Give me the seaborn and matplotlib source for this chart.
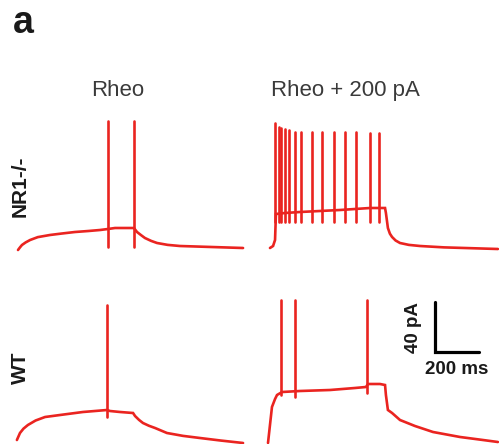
import numpy as np
import pandas as pd
import matplotlib
matplotlib.use("Agg")
import matplotlib.pyplot as plt
import seaborn as sns

sns.set_theme(style="white")
plt.rcParams["font.family"] = ["Liberation Sans", "DejaVu Sans"]

# ---------------- data (time in ms, membrane potential in mV) ----------------
# NR1-/- , Rheo
nr1_rheo_t = [0, 9, 18, 35, 55, 90, 145, 200, 259, 320, 373, 409, 441, 486, 527, 541, 560, 577, 605, 632, 680, 736, 1023]
nr1_rheo_v = [-71.6, -69.5, -67.6, -65.5, -63.6, -61.3, -59.6, -58.4, -57.2, -56.4, -55.6, -54.8, -54, -54, -54,
              -57.2, -59.8, -62, -64.3, -66, -67.5, -68.4, -70]
nr1_rheo_spk_t = [409, 527]
nr1_rheo_spk_peak = [31.5, 31.5]
nr1_rheo_spk_trough = [-69.2, -69.2]

# NR1-/- , Rheo + 200 pA
nr1_hi_t = [9, 23, 32, 36, 77, 145, 327, 464, 532, 536, 545, 554, 564, 580, 600, 640, 691, 800, 1045]
nr1_hi_v = [-70, -68.4, -63.6, -42.8, -42, -41.2, -39.6, -38, -38, -42, -54, -58.5, -61.2, -64, -66, -67.5, -68.4,
            -69.5, -70.8]
nr1_hi_spk_t = [33, 49, 60, 76, 94, 124, 151, 200, 245, 299, 351, 401, 462, 506]
nr1_hi_spk_peak = [29.8, 26.8, 26, 25.2, 24.4, 23, 23, 23, 23, 23, 23, 23, 22, 22]
nr1_hi_spk_trough = [-49.2] * 14

# WT , Rheo
wt_rheo_t = [-5, 9, 25, 45, 80, 123, 191, 295, 405, 418, 464, 523, 532, 550, 568, 595, 623, 677, 750, 827, 920, 1023]
wt_rheo_v = [-67.6, -62, -58.5, -55.6, -52, -49.2, -47.6, -45.2, -43.6, -44.4, -45.2, -46, -48.4, -51.5, -54,
             -56.2, -58, -62, -64.3, -66, -68, -70]
wt_rheo_spk_t = [405]
wt_rheo_spk_peak = [40.4]
wt_rheo_spk_trough = [-49.2]

# WT , Rheo + 200 pA
wt_hi_t = [0, 9, 18, 32, 41, 64, 145, 282, 395, 445, 455, 509, 532, 536, 545, 564, 600, 668, 750, 873, 977, 1045]
wt_hi_v = [-70, -55.6, -41.2, -34.8, -31.6, -29.2, -28.4, -27.6, -26, -25.2, -22.8, -22.8, -23.6, -31.6,
           -43.6, -46, -51.6, -56.4, -61.2, -65.2, -67.6, -69.2]
wt_hi_spk_t = [59, 123, 450]
wt_hi_spk_peak = [44.4, 44.4, 44.4]
wt_hi_spk_trough = [-31.6, -33.2, -30]

# scale bar
bar_t0, bar_len_t = 760, 200     # ms
bar_v0, bar_len_v = 3, 40        # units
bar_labels = ["40 pA", "200 ms"]

col_titles = ["Rheo", "Rheo + 200 pA"]
row_titles = ["NR1-/-", "WT"]
panel_letter = "a"

# ---------------- layout ----------------
W, H = 499, 444
fig = plt.figure(figsize=(W / 100, H / 100), dpi=100)
fig.patch.set_facecolor("white")

RED = "#ea2420"
PX_PER_MS = 0.22
PX_PER_MV = 1.25
XLIM = (-30, 1070)
YLIM = (-80, 55)
ax_w = (XLIM[1] - XLIM[0]) * PX_PER_MS
ax_h = (YLIM[1] - YLIM[0]) * PX_PER_MV


def make_ax(x0_px, y_rest_px):
    # x0_px: pixel where t=0 ; y_rest_px: pixel where v=-70
    left = x0_px - (0 - XLIM[0]) * PX_PER_MS
    top = y_rest_px - (YLIM[1] - (-70)) * PX_PER_MV
    bottom = top + ax_h
    ax = fig.add_axes([left / W, 1 - bottom / H, ax_w / W, ax_h / H])
    ax.set_xlim(*XLIM)
    ax.set_ylim(*YLIM)
    ax.set_axis_off()
    return ax


def draw_trace(ax, t, v, spk_t, spk_peak, spk_trough):
    base = pd.DataFrame({"t": t, "v": v})
    sns.lineplot(data=base, x="t", y="v", ax=ax, color=RED, lw=1.9,
                 sort=False, estimator=None)
    rows = []
    for i, (st, pk, tr) in enumerate(zip(spk_t, spk_peak, spk_trough)):
        rows.append({"t": st, "v": tr, "spike": i})
        rows.append({"t": st, "v": pk, "spike": i})
    spk = pd.DataFrame(rows)
    sns.lineplot(data=spk, x="t", y="v", units="spike", ax=ax, color=RED, lw=1.9,
                 sort=False, estimator=None)


ax1 = make_ax(18, 248)
draw_trace(ax1, nr1_rheo_t, nr1_rheo_v, nr1_rheo_spk_t, nr1_rheo_spk_peak, nr1_rheo_spk_trough)
ax2 = make_ax(268, 248)
draw_trace(ax2, nr1_hi_t, nr1_hi_v, nr1_hi_spk_t, nr1_hi_spk_peak, nr1_hi_spk_trough)
ax3 = make_ax(18, 443)
draw_trace(ax3, wt_rheo_t, wt_rheo_v, wt_rheo_spk_t, wt_rheo_spk_peak, wt_rheo_spk_trough)
ax4 = make_ax(268, 443)
draw_trace(ax4, wt_hi_t, wt_hi_v, wt_hi_spk_t, wt_hi_spk_peak, wt_hi_spk_trough)

bar = pd.DataFrame({"t": [bar_t0, bar_t0, bar_t0 + bar_len_t],
                    "v": [bar_v0 + bar_len_v, bar_v0, bar_v0]})
sns.lineplot(data=bar, x="t", y="v", ax=ax4, color="black", lw=2.3,
             sort=False, estimator=None)
for ax in (ax1, ax2, ax3, ax4):
    ax.set_xlim(*XLIM)
    ax.set_ylim(*YLIM)
    ax.set_axis_off()
    for ln in ax.lines:
        ln.set_solid_joinstyle("miter")


def ftext(xp, yp, s, **kw):
    fig.text(xp / W, 1 - yp / H, s, ha="center", va="center", **kw)


ftext(23, 23, panel_letter, fontsize=27, fontweight="bold", color="#1a1a1a")
ftext(118, 90, col_titles[0], fontsize=16, color="#3a3a3a")
ftext(345, 90, col_titles[1], fontsize=16, color="#3a3a3a")
ftext(20, 186, row_titles[0], fontsize=15, fontweight="bold", rotation=90, color="#1a1a1a")
ftext(20, 368, row_titles[1], fontsize=15, fontweight="bold", rotation=90, color="#1a1a1a")
ftext(413, 328, bar_labels[0], fontsize=13.5, fontweight="bold", rotation=90, color="#1a1a1a")
ftext(457, 369, bar_labels[1], fontsize=13.5, fontweight="bold", color="#1a1a1a")

fig.savefig("out.png", dpi=100, facecolor="white")
